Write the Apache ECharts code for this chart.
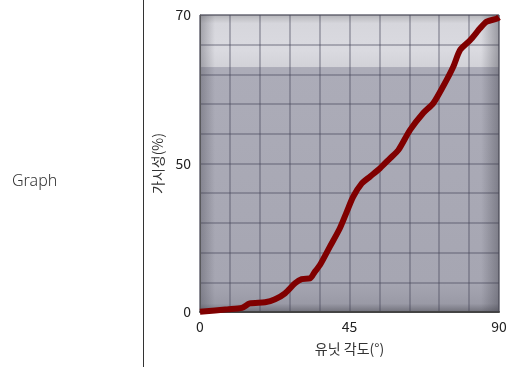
<!DOCTYPE html>
<html><head><meta charset="utf-8">
<script src="https://cdn.jsdelivr.net/npm/echarts@6/dist/echarts.min.js"></script>
<style>html,body{margin:0;padding:0;background:#fff}#c{width:510px;height:367px}</style>
</head><body><div id="c"></div>
<script>
// unit angle (degrees)
const angles = [0, 8.4, 12.6, 15, 19.6, 22.6, 25.6, 28.6, 30.6, 33.1, 34.6, 36.1, 39.1, 42.1, 44.2, 46.1, 48.7, 51.2, 54.2, 57.2, 59.7, 63.2, 67.2, 70.2, 73.2, 76.2, 78.3, 81.3, 84.3, 86.3, 89.3, 90];
// visibility (%)
const visibility = [0.1, 0.9, 1.4, 2.9, 3.3, 4.3, 6.3, 9.7, 11.1, 11.3, 13.6, 15.8, 22, 28.2, 33.8, 38.8, 43.3, 45.6, 48.4, 50.7, 51.8, 54.5, 56.8, 58.1, 60.4, 63.0, 65.3, 66.6, 68.2, 69.1, 69.5, 69.7];
const xTickLabels = [0, 45, 90];
const yTickLabels = [0, 50, 70];

// piecewise y scale: 0..50 occupies lower half (10 per row), 50..70 upper half (4 per row)
function yScale(v){ return v <= 50 ? v / 10 : 5 + (v - 50) / 4; }
function yInverse(t){ return t <= 5 ? t * 10 : 50 + (t - 5) * 4; }

const chart = echarts.init(document.getElementById('c'));
const font = '"Noto Sans CJK KR", "Noto Sans", sans-serif';
chart.setOption({
  animation: false,
  textStyle: { fontFamily: font },
  graphic: [
    { type: 'line', shape: { x1: 143.5, y1: 0, x2: 143.5, y2: 367 }, style: { stroke: '#333', lineWidth: 1 } },
    { type: 'text', left: 12, top: 173, style: { text: 'Graph', font: '300 16px "Noto Sans", sans-serif', fill: '#333' } }
  ],
  grid: {
    left: 200, right: 11, top: 15, bottom: 55, show: true,
    borderColor: '#6a6a70', borderWidth: 1,
    backgroundColor: new echarts.graphic.LinearGradient(0, 0, 0, 1, [
      { offset: 0, color: '#b4b4b8' },
      { offset: 0.03, color: '#d6d6dc' },
      { offset: 0.12, color: '#dadae0' },
      { offset: 0.175, color: '#d2d2d8' },
      { offset: 0.178, color: '#acacb8' },
      { offset: 0.9, color: '#a6a6b2' },
      { offset: 0.97, color: '#9a9aa6' },
      { offset: 1, color: '#6e6e78' }
    ])
  },
  xAxis: {
    type: 'value', min: 0, max: 90, interval: 9,
    name: '유닛 각도(°)', nameLocation: 'middle', nameGap: 30,
    nameTextStyle: { fontSize: 14, color: '#333', fontFamily: font },
    axisLine: { show: true, lineStyle: { color: '#444', width: 2 } },
    axisTick: { show: false },
    axisLabel: { fontSize: 14, color: '#222', margin: 8, fontFamily: font,
      formatter: v => xTickLabels.includes(v) ? String(v) : '' },
    splitLine: { show: true, lineStyle: { color: 'rgba(70,70,90,0.35)', width: 2 } }
  },
  yAxis: {
    type: 'value', min: 0, max: 10, interval: 1,
    name: '가시성(%)', nameLocation: 'middle', nameGap: 30,
    nameTextStyle: { fontSize: 14, color: '#333', fontFamily: font },
    axisLine: { show: true, lineStyle: { color: '#666', width: 1 } },
    axisTick: { show: false },
    axisLabel: { fontSize: 14, color: '#222', margin: 9, fontFamily: font,
      formatter: t => { const v = yInverse(t); return yTickLabels.includes(Math.round(v)) && Math.abs(v - Math.round(v)) < 1e-6 ? String(Math.round(v)) : ''; } },
    splitLine: { show: true, lineStyle: { color: 'rgba(70,70,90,0.35)', width: 2 } }
  },
  series: [{
    type: 'line',
    data: angles.map((a, i) => [a, yScale(visibility[i])]),
    showSymbol: false, smooth: 0.25,
    lineStyle: { color: '#800000', width: 6 },
    markArea: {
      silent: true,
      itemStyle: {
        color: new echarts.graphic.LinearGradient(0, 0, 1, 0, [
          { offset: 0, color: 'rgba(60,60,70,0.35)' },
          { offset: 0.05, color: 'rgba(60,60,70,0)' },
          { offset: 0.94, color: 'rgba(60,60,70,0)' },
          { offset: 1, color: 'rgba(60,60,70,0.4)' }
        ])
      },
      data: [[{ coord: [0, 0] }, { coord: [90, 10] }]]
    }
  }]
});
</script></body></html>
